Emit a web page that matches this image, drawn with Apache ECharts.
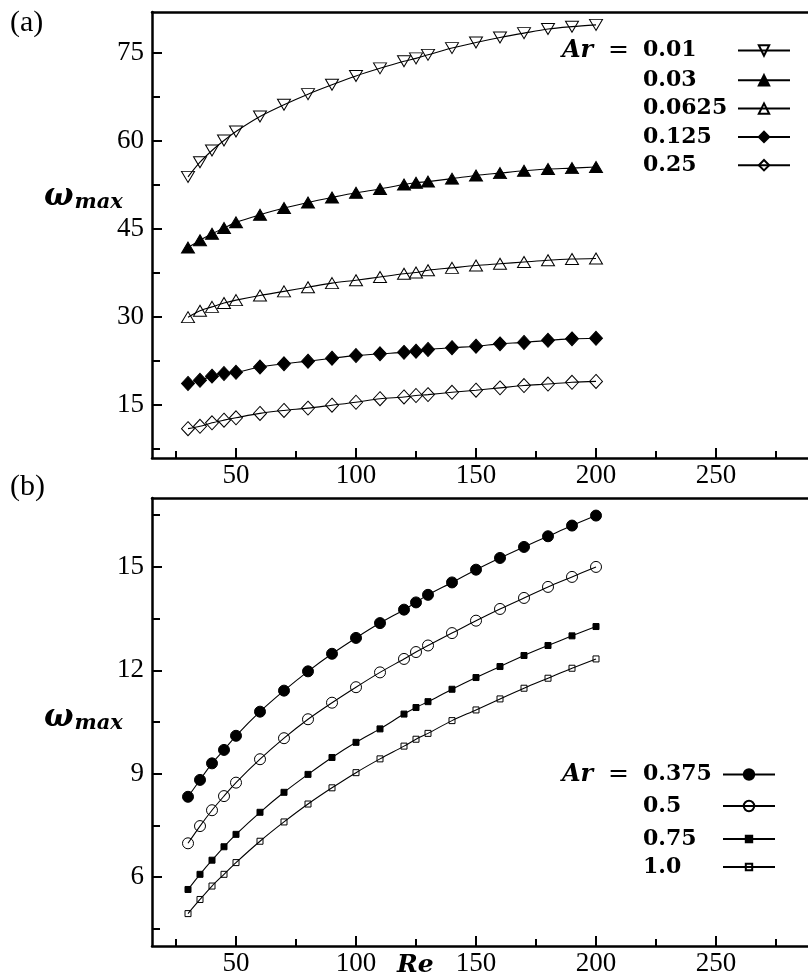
<!DOCTYPE html>
<html>
<head>
<meta charset="utf-8">
<script src="https://cdn.jsdelivr.net/npm/echarts@6/dist/echarts.min.js"></script>
<style>
  html, body { margin: 0; padding: 0; background: #fff; }
  #chart { width: 808px; height: 979px; }
</style>
</head>
<body>
<div id="chart"></div>
<script>
// Re values shared by every curve
const re = [30, 35, 40, 45, 50, 60, 70, 80, 90, 100, 110, 120, 125, 130, 140, 150, 160, 170, 180, 190, 200];

// panel (a)
const ar001 = [53.9, 56.4, 58.4, 60.1, 61.65, 64.2, 66.2, 68.0, 69.6, 71.1, 72.4, 73.6, 74.1, 74.7, 75.85, 76.8, 77.65, 78.4, 79.1, 79.5, 79.8];
const ar003 = [41.85, 43.1, 44.2, 45.2, 46.15, 47.45, 48.6, 49.55, 50.4, 51.2, 51.85, 52.6, 52.9, 53.1, 53.6, 54.15, 54.55, 54.95, 55.25, 55.4, 55.6];
const ar00625 = [30.0, 31.1, 31.75, 32.4, 32.9, 33.7, 34.4, 35.1, 35.8, 36.3, 36.85, 37.4, 37.6, 38.0, 38.4, 38.8, 39.1, 39.4, 39.7, 39.9, 40.0];
const ar0125 = [18.7, 19.25, 19.95, 20.4, 20.6, 21.5, 22.05, 22.5, 23.0, 23.45, 23.75, 24.0, 24.2, 24.5, 24.8, 25.05, 25.45, 25.7, 26.05, 26.3, 26.4];
const ar025 = [11.0, 11.4, 12.0, 12.45, 12.85, 13.6, 14.1, 14.5, 15.0, 15.5, 16.1, 16.4, 16.65, 16.8, 17.2, 17.55, 17.95, 18.35, 18.6, 18.9, 19.05];

// panel (b)
const ar0375 = [8.33, 8.82, 9.30, 9.69, 10.10, 10.80, 11.41, 11.97, 12.48, 12.94, 13.37, 13.76, 13.97, 14.19, 14.55, 14.92, 15.26, 15.58, 15.89, 16.20, 16.49];
const ar05 = [6.98, 7.48, 7.94, 8.35, 8.74, 9.42, 10.03, 10.58, 11.06, 11.51, 11.94, 12.33, 12.53, 12.72, 13.08, 13.44, 13.78, 14.10, 14.42, 14.71, 15.0];
const ar075 = [5.64, 6.08, 6.49, 6.88, 7.24, 7.88, 8.46, 8.98, 9.47, 9.91, 10.30, 10.73, 10.92, 11.09, 11.45, 11.79, 12.11, 12.43, 12.72, 13.0, 13.27];
const ar1 = [4.94, 5.35, 5.74, 6.08, 6.42, 7.04, 7.60, 8.12, 8.59, 9.03, 9.43, 9.80, 10.0, 10.17, 10.54, 10.85, 11.17, 11.48, 11.77, 12.06, 12.33];

// ticks
const xMajor = [50, 100, 150, 200, 250];
const xMinor = [25, 75, 125, 175, 225, 275];
const yMajorA = [15, 30, 45, 60, 75];
const yMinorA = [7.5, 22.5, 37.5, 52.5, 67.5];
const yMajorB = [6, 9, 12, 15];
const yMinorB = [4.5, 7.5, 10.5, 13.5, 16.5];

const serif = 'Liberation Serif';
const mathFont = 'DejaVu Serif';

const pairs = (ys) => re.map((x, i) => [x, ys[i]]);

function xAxes(grid) {
    // main axis with labels, a second one only for the short ticks, and the top frame line
    return [
        {
            type: 'value', gridIndex: grid, min: 15, max: 288.33, position: 'bottom',
            axisLine: { lineStyle: { color: '#000', width: 2.5 } },
            axisTick: { inside: true, length: 10, customValues: xMajor, lineStyle: { color: '#000', width: 2 } },
            axisLabel: { customValues: xMajor, margin: 4, color: '#000', fontFamily: serif, fontSize: 27 },
            splitLine: { show: false }
        },
        {
            type: 'value', gridIndex: grid, min: 15, max: 288.33, position: 'bottom',
            axisLine: { show: false },
            axisTick: { inside: true, length: 7, customValues: xMinor, lineStyle: { color: '#000', width: 2 } },
            axisLabel: { show: false },
            splitLine: { show: false }
        },
        {
            type: 'value', gridIndex: grid, min: 15, max: 288.33, position: 'top',
            axisLine: { lineStyle: { color: '#000', width: 2.5 } },
            axisTick: { show: false }, axisLabel: { show: false }, splitLine: { show: false }
        }
    ];
}

function yAxes(grid, min, max, major, minor) {
    return [
        {
            type: 'value', gridIndex: grid, min: min, max: max, position: 'left',
            axisLine: { lineStyle: { color: '#000', width: 2.5 } },
            axisTick: { inside: true, length: 10, customValues: major, lineStyle: { color: '#000', width: 2 } },
            axisLabel: { customValues: major, margin: 8, color: '#000', fontFamily: serif, fontSize: 27 },
            splitLine: { show: false }
        },
        {
            type: 'value', gridIndex: grid, min: min, max: max, position: 'left',
            axisLine: { show: false },
            axisTick: { inside: true, length: 8, customValues: minor, lineStyle: { color: '#000', width: 2 } },
            axisLabel: { show: false },
            splitLine: { show: false }
        }
    ];
}

function curve(name, ys, xi, yi, symbol, size, filled, rotate) {
    return {
        name: name,
        type: 'line',
        xAxisIndex: xi,
        yAxisIndex: yi,
        data: pairs(ys),
        smooth: 0.3,
        symbol: symbol,
        symbolSize: size,
        symbolRotate: rotate || 0,
        lineStyle: { color: '#000', width: 1.1 },
        itemStyle: {
            color: filled ? '#000' : 'rgba(0,0,0,0)',
            borderColor: '#000',
            borderWidth: 1
        },
        emphasis: { disabled: true },
        z: 3
    };
}

const legendRich = (valueWidth) => ({
    ar: { fontFamily: mathFont, fontStyle: 'italic', fontWeight: 'bold', fontSize: 24, width: 46, align: 'left', lineHeight: 24, color: '#000' },
    eq: { fontFamily: mathFont, fontSize: 25, width: 35, align: 'left', lineHeight: 24, color: '#000' },
    sp: { width: 81, align: 'left', lineHeight: 24 },
    v: { fontFamily: mathFont, fontWeight: 'bold', fontSize: 22, width: valueWidth, align: 'left', lineHeight: 24, color: '#000' }
});

function legendBox(names, first, top, itemHeight, gap, valueWidth) {
    return {
        data: names,
        orient: 'vertical',
        left: 562,
        top: top,
        padding: 0,
        align: 'right',
        itemWidth: 52,
        itemHeight: itemHeight,
        itemGap: gap,
        selectedMode: false,
        formatter: (name) => (name === first ? '{ar|Ar}{eq|=}' : '{sp|}') + '{v|' + name + '}',
        textStyle: { rich: legendRich(valueWidth) }
    };
}

const mathRich = {
    w: { fontFamily: mathFont, fontStyle: 'italic', fontWeight: 'bold', fontSize: 31, fill: '#000' },
    s: { fontFamily: mathFont, fontStyle: 'italic', fontWeight: 'bold', fontSize: 21, fill: '#000', padding: [13, 0, 0, 1] }
};

const chart = echarts.init(document.getElementById('chart'), null, { renderer: 'canvas' });

const option = {
    animation: false,
    backgroundColor: '#fff',
    grid: [
        { left: 152, top: 12, right: 0, height: 446 },
        { left: 152, top: 498, right: 0, height: 448 }
    ],
    xAxis: [].concat(xAxes(0), xAxes(1)),
    yAxis: [].concat(yAxes(0, 6, 82, yMajorA, yMinorA), yAxes(1, 4, 17, yMajorB, yMinorB)),
    legend: [
        legendBox(['0.01', '0.03', '0.0625', '0.125', '0.25'], '0.01', 38, 13, 6.3, 90),
        legendBox(['0.375', '0.5'], '0.375', 762, 13, 8, 75),
        legendBox(['0.75', '1.0'], null, 828, 8, 6, 75)
    ],
    series: [
        curve('0.01', ar001, 0, 0, 'triangle', [13, 11], false, 180),
        curve('0.03', ar003, 0, 0, 'triangle', [13, 11], true),
        curve('0.0625', ar00625, 0, 0, 'triangle', [13, 11], false),
        curve('0.125', ar0125, 0, 0, 'diamond', [13, 14], true),
        curve('0.25', ar025, 0, 0, 'diamond', [13, 14], false),
        curve('0.375', ar0375, 3, 2, 'circle', 11, true),
        curve('0.5', ar05, 3, 2, 'circle', 11, false),
        curve('0.75', ar075, 3, 2, 'rect', 6, true),
        curve('1.0', ar1, 3, 2, 'rect', 6, false)
    ],
    graphic: [
        { type: 'text', left: 10, top: 8, style: { text: '(a)', font: '30px "Liberation Serif"', fill: '#000' } },
        { type: 'text', left: 10, top: 472, style: { text: '(b)', font: '30px "Liberation Serif"', fill: '#000' } },
        { type: 'text', left: 44, top: 181, style: { text: '{w|ω}{s|max}', rich: mathRich } },
        { type: 'text', left: 44, top: 702, style: { text: '{w|ω}{s|max}', rich: mathRich } },
        { type: 'text', left: 397, top: 953, style: { text: 'Re', font: 'italic bold 25px "DejaVu Serif"', fill: '#000' } }
    ]
};

chart.setOption(option);
</script>
</body>
</html>
